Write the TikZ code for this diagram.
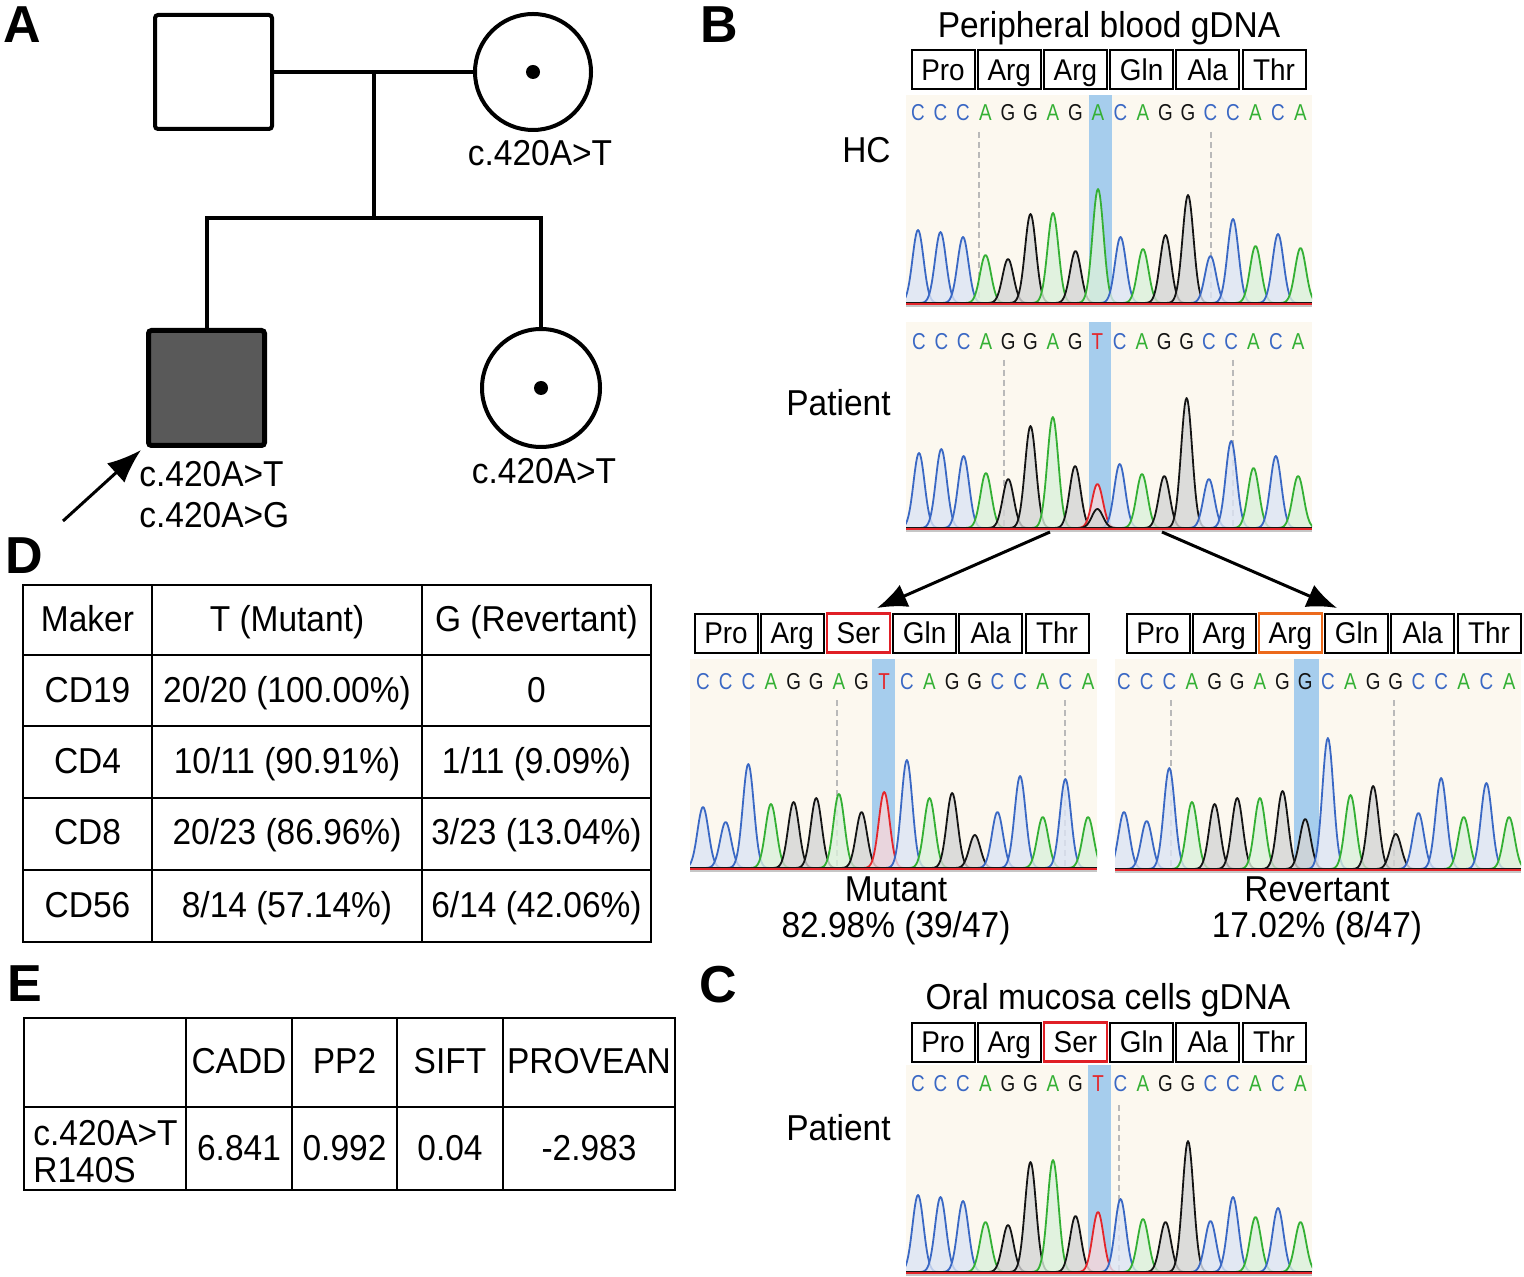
\documentclass[tikz,border=0pt]{standalone}
\usepackage{fontspec}
\setmainfont{Liberation Sans}[FakeStretch=0.93]
\newfontfamily\basefont{Liberation Sans}[FakeStretch=0.82]
\newfontfamily\panelfont{Liberation Sans}
\usetikzlibrary{arrows.meta}
\definecolor{baseC}{HTML}{3A68C4}
\definecolor{baseA}{HTML}{34B034}
\definecolor{baseG}{HTML}{141414}
\definecolor{baseT}{HTML}{E4262B}
\definecolor{cream}{HTML}{FCF8EF}
\definecolor{hilite}{HTML}{A6CDED}
\definecolor{redbox}{HTML}{E01F26}
\definecolor{orangebox}{HTML}{EC6A1C}
\definecolor{affected}{HTML}{595959}

\tikzset{
  lbl/.style={inner sep=0pt, font=\fontsize{18}{21}\selectfont},
  basel/.style={inner sep=0pt, font=\basefont\fontsize{11.5}{13}\selectfont, text height=8.2pt, text depth=0pt},
  aabox/.style={draw, inner sep=0pt, minimum width=31.5pt, minimum height=19.5pt, text height=10.7pt, text depth=0pt, font=\fontsize{15}{17}\selectfont},
  panel/.style={inner sep=0pt, font=\panelfont\bfseries\fontsize{26}{28}\selectfont},
  ped/.style={line width=2pt},
  sq/.style={draw, line width=2pt, rounded corners=1.5pt, inner sep=0pt, minimum width=58.5pt, minimum height=57pt},
  circ/.style={draw, circle, line width=2pt, inner sep=0pt, minimum size=58pt},
  dotn/.style={circle, fill=black, inner sep=0pt, minimum size=7pt},
  tbl/.style={line width=1.4pt},
  guide/.style={gray!55, dash pattern=on 3pt off 2pt, line width=0.6pt},
  bigarrow/.style={line width=1.5pt, -{Latex[length=15pt,width=12pt]}}
}

% one chromatogram peak: centre x, baseline y, height, colour
\newcommand\pk[4]{%
  \pgfmathsetmacro\pka{#1-24}%
  \pgfmathsetmacro\pkb{#1+24}%
  \fill[#4!18!white, fill opacity=0.8] plot[domain=\pka:\pkb, samples=49] (\x,{#2-#3*exp(-((\x-#1)/7.8)*((\x-#1)/7.8))});
  \draw[#4, line width=0.9pt, line join=round] plot[domain=\pka:\pkb, samples=49] (\x,{#2-#3*exp(-((\x-#1)/7.8)*((\x-#1)/7.8))});
}
% sequence: prefix, first x, spacing, baseline, letter y, list base/height
\newcommand\seq[6]{%
  \foreach \bb/\hh [count=\ii from 0] in {#6}{%
    \pgfmathsetmacro\cx{#2+\ii*#3}%
    \pk{\cx}{#4}{\hh}{base\bb}%
    \node[basel, text=base\bb] (#1\ii) at (\cx,#5) {\bb};
  }}
% background: x0, y0, x1, baseline, highlight x0, highlight x1 (also sets clip)
\newcommand\chrombg[6]{%
  \fill[cream] (#1,#2) rectangle (#3,#4+3);
  \fill[hilite] (#5,#2) rectangle (#6,#4+3);
  \clip (#1,#2) rectangle (#3,#4+4);
}
\newcommand\chromline[3]{%
  \draw[gray!45, line width=0.8pt] (#1,#3+3) -- (#2,#3+3);
  \draw[baseG, line width=0.6pt] (#1,#3) -- (#2,#3);
  \draw[baseT, line width=1.1pt] (#1,#3+1) -- (#2,#3+1);
}
% amino-acid row: prefix, left x, top y, list name/colour/width
\newcommand\aarow[4]{%
  \foreach \aa/\ac/\aw [count=\ii from 0] in {#4}{%
    \node[aabox, draw=\ac, line width=\aw] (#1\ii) at ({#2+32+\ii*66.2},{#3+20}) {\aa};
  }}

\begin{document}
\begin{tikzpicture}[x=0.5pt, y=-0.5pt]
\fill[white] (0,0) rectangle (1524,1277);
\useasboundingbox (0,0) rectangle (1524,1277);

% ---------- panel letters ----------
\node[panel] (pA) at (22,25) {A};
\node[panel] (pB) at (719,25) {B};
\node[panel] (pD) at (24,556) {D};
\node[panel] (pE) at (25,984) {E};
\node[panel] (pC) at (718,985) {C};

% ---------- A: pedigree ----------
\node[sq] (fa) at (213.5,72) {};
\node[circ] (mo) at (533,72) {};
\node[dotn] (mod) at (mo.center) {};
\node[sq, fill=affected, line width=2.5pt, minimum width=58pt, minimum height=57.5pt] (pt) at (206.5,388) {};
\node[circ, minimum size=59pt] (si) at (541,388) {};
\node[dotn] (sid) at (si.center) {};
\coordinate (m1) at (374,72);
\coordinate (m2) at (374,218);
\draw[ped] (fa.east) -- (mo.west);
\draw[ped] (m1) -- (m2);
\draw[ped] (pt.north) |- (m2) -| (si.north);
\node[lbl, anchor=base] (lmo) at (540,166) {c.420A>T};
\node[lbl, anchor=base] (lsi) at (544,484) {c.420A>T};
\node[lbl, anchor=base west] (lpt1) at (139,487) {c.420A>T};
\node[lbl, anchor=base west] (lpt2) at (139,528) {c.420A>G};
\coordinate (parr) at (63,521);
\coordinate (ptip) at (141,450);
\draw[line width=1.5pt, -{Latex[length=17pt,width=13pt]}] (parr) -- (ptip);

% ---------- B: peripheral blood ----------
\node[lbl, anchor=base] (tB) at (1109,38) {Peripheral blood gDNA};
\aarow{hcaa}{911}{50}{Pro/black/1pt, Arg/black/1pt, Arg/black/1pt, Gln/black/1pt, Ala/black/1pt, Thr/black/1pt}
\node[lbl, anchor=base east] (hcl) at (891,163) {HC};
\begin{scope}
\chrombg{906}{95}{1312}{303}{1089}{1112}
\draw[guide] (979,132) -- (979,303);
\draw[guide] (1211,132) -- (1211,303);
\seq{hc}{918}{22.5}{303}{112}{C/73, C/71, C/66, A/48, G/44, G/89, A/90, G/52, A/114, C/66, A/54, G/68, G/108, C/47, C/84, A/57, C/69, A/55}
\chromline{906}{1312}{303}
\end{scope}

\node[lbl, anchor=base east] (ptl) at (891,416) {Patient};
\begin{scope}
\chrombg{906}{322}{1312}{528}{1089}{1111}
\draw[guide] (1004,360) -- (1004,528);
\draw[guide] (1233,360) -- (1233,528);
\seq{pb}{919}{22.3}{528}{341}{C/75, C/79, C/72, A/55, G/49, G/102, A/111, G/62, T/44, C/64, A/54, G/52, G/130, C/49, C/87, A/60, C/72, A/52}
\pk{1097.4}{528}{19}{baseG}
\chromline{906}{1312}{528}
\end{scope}

% arrows to sub-clones
\coordinate (a1s) at (1050,532);
\coordinate (a1e) at (877,608);
\coordinate (a2s) at (1162,532);
\coordinate (a2e) at (1337,608);
\draw[bigarrow] (a1s) -- (a1e);
\draw[bigarrow] (a2s) -- (a2e);

% mutant
\aarow{muaa}{694}{613}{Pro/black/1pt, Arg/black/1pt, Ser/redbox/1.3pt, Gln/black/1pt, Ala/black/1pt, Thr/black/1pt}
\begin{scope}
\chrombg{690}{659}{1097}{868}{872}{895}
\draw[guide] (837,700) -- (837,868);
\draw[guide] (1065,700) -- (1065,868);
\seq{mu}{703}{22.65}{868}{681}{C/61, C/46, C/104, A/64, G/66, G/70, A/74, G/56, T/76, C/108, A/70, G/75, G/33, C/56, C/92, A/51, C/89, A/51}
\chromline{690}{1097}{868}
\end{scope}
\node[lbl, anchor=base] (mul1) at (896,901) {Mutant};
\node[lbl, anchor=base] (mul2) at (896,937) {82.98\% (39/47)};

% revertant
\aarow{reaa}{1126}{613}{Pro/black/1pt, Arg/black/1pt, Arg/orangebox/1.3pt, Gln/black/1pt, Ala/black/1pt, Thr/black/1pt}
\begin{scope}
\chrombg{1115}{659}{1521}{869}{1294}{1319}
\draw[guide] (1171,700) -- (1171,869);
\draw[guide] (1394,700) -- (1394,869);
\seq{re}{1124}{22.65}{869}{681}{C/57, C/48, C/101, A/67, G/65, G/71, A/71, G/78, G/50, C/131, A/74, G/83, G/35, C/56, C/91, A/52, C/86, A/52}
\chromline{1115}{1521}{869}
\end{scope}
\node[lbl, anchor=base] (rel1) at (1317,901) {Revertant};
\node[lbl, anchor=base] (rel2) at (1317,937) {17.02\% (8/47)};

% ---------- C: oral mucosa ----------
\node[lbl, anchor=base] (tC) at (1108,1009) {Oral mucosa cells gDNA};
\aarow{omaa}{911}{1022}{Pro/black/1pt, Arg/black/1pt, Ser/redbox/1.3pt, Gln/black/1pt, Ala/black/1pt, Thr/black/1pt}
\node[lbl, anchor=base east] (ptc) at (891,1140) {Patient};
\begin{scope}
\chrombg{906}{1065}{1312}{1272}{1088}{1111}
\draw[guide] (1119,1105) -- (1119,1272);
\seq{om}{918}{22.5}{1272}{1083}{C/77, C/75, C/71, A/50, G/47, G/110, A/112, G/56, T/60, C/73, A/53, G/50, G/131, C/51, C/75, A/55, C/64, A/50}
\chromline{906}{1312}{1272}
\end{scope}

% ---------- D: table ----------
\draw[tbl] (23,585) rectangle (651,942);
\draw[tbl] (152,585) -- (152,942);
\draw[tbl] (422,585) -- (422,942);
\foreach \yy in {655,726,798,870} \draw[tbl] (23,\yy) -- (651,\yy);
\node[lbl, anchor=base] (d00) at (87.5,632) {Maker};
\node[lbl, anchor=base] (d01) at (287,632) {T (Mutant)};
\node[lbl, anchor=base] (d02) at (536.5,632) {G (Revertant)};
\node[lbl, anchor=base] (d10) at (87.5,702) {CD19};
\node[lbl, anchor=base] (d11) at (287,702) {20/20 (100.00\%)};
\node[lbl, anchor=base] (d12) at (536.5,702) {0};
\node[lbl, anchor=base] (d20) at (87.5,773) {CD4};
\node[lbl, anchor=base] (d21) at (287,773) {10/11 (90.91\%)};
\node[lbl, anchor=base] (d22) at (536.5,773) {1/11 (9.09\%)};
\node[lbl, anchor=base] (d30) at (87.5,844) {CD8};
\node[lbl, anchor=base] (d31) at (287,844) {20/23 (86.96\%)};
\node[lbl, anchor=base] (d32) at (536.5,844) {3/23 (13.04\%)};
\node[lbl, anchor=base] (d40) at (87.5,917) {CD56};
\node[lbl, anchor=base] (d41) at (287,917) {8/14 (57.14\%)};
\node[lbl, anchor=base] (d42) at (536.5,917) {6/14 (42.06\%)};

% ---------- E: table ----------
\draw[tbl] (24,1018) rectangle (675,1190);
\foreach \xx in {186,292,397,503} \draw[tbl] (\xx,1018) -- (\xx,1190);
\draw[tbl] (24,1107) -- (675,1107);
\node[lbl, anchor=base] (e01) at (239,1073) {CADD};
\node[lbl, anchor=base] (e02) at (344.5,1073) {PP2};
\node[lbl, anchor=base] (e03) at (450,1073) {SIFT};
\node[lbl, anchor=base] (e04) at (589,1073) {PROVEAN};
\node[lbl, anchor=base west] (e10a) at (33,1145) {c.420A>T};
\node[lbl, anchor=base west] (e10b) at (33,1182) {R140S};
\node[lbl, anchor=base] (e11) at (239,1160) {6.841};
\node[lbl, anchor=base] (e12) at (344.5,1160) {0.992};
\node[lbl, anchor=base] (e13) at (450,1160) {0.04};
\node[lbl, anchor=base] (e14) at (589,1160) {-2.983};
\end{tikzpicture}
\end{document}
